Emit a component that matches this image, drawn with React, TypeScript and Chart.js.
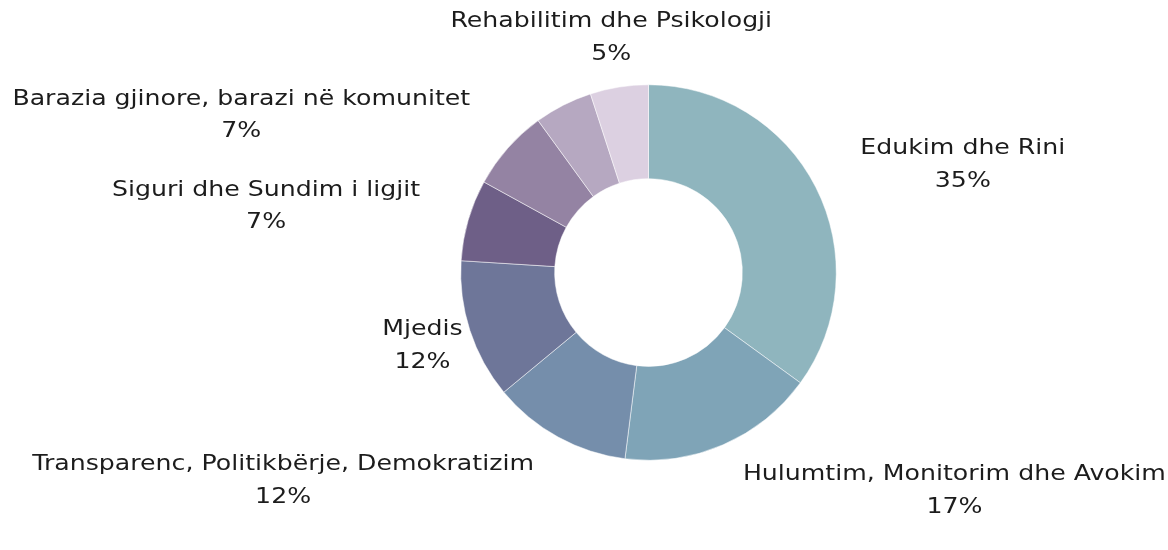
import React, { useEffect, useRef } from 'react';
import { Chart, registerables } from 'chart.js';

Chart.register(...registerables);

// ---- data ----
const categories = [
  'Edukim dhe Rini',
  'Hulumtim, Monitorim dhe Avokim',
  'Transparenc, Politikbërje, Demokratizim',
  'Mjedis',
  'Siguri dhe Sundim i ligjit',
  'Barazia gjinore, barazi në komunitet',
  'Tjetër',
  'Rehabilitim dhe Psikologji',
];
const values = [35, 17, 12, 12, 7, 7, 5, 5];
const sliceColors = [
  '#8fb5be',
  '#7fa4b7',
  '#758eab',
  '#6e7699',
  '#6e5f87',
  '#9483a3',
  '#b6a8c1',
  '#dcd0e1',
];

// ---- label styling (null = label hidden by overlap) ----
const labelAlign: (CanvasTextAlign | null)[] = ['left', 'left', 'right', 'center', 'right', 'right', null, 'center'];

const FONT = '21px "DejaVu Sans", sans-serif';
const STRETCH = 1.2;

const labelPlugin = {
  id: 'outerLabels',
  afterDraw(chart: any) {
    const ctx = chart.ctx as CanvasRenderingContext2D;
    const meta = chart.getDatasetMeta(0);
    const total = values.reduce((a, b) => a + b, 0);
    ctx.save();
    ctx.font = FONT;
    ctx.fillStyle = '#1c1c1c';
    ctx.textBaseline = 'middle';
    ctx.textAlign = 'center';
    const drawLine = (t: string, x: number, y: number) => {
      ctx.save();
      ctx.translate(x, y);
      ctx.scale(STRETCH, 1);
      ctx.fillText(t, 0, 0);
      ctx.restore();
    };
    meta.data.forEach((arc: any, i: number) => {
      const align = labelAlign[i];
      if (!align) return;
      const { x, y, startAngle, endAngle, outerRadius } = arc.getProps(['x', 'y', 'startAngle', 'endAngle', 'outerRadius'], true);
      const mid = (startAngle + endAngle) / 2;
      const r = outerRadius + 50;
      const px = x + Math.cos(mid) * r;
      const py = y + Math.sin(mid) * r;
      const line1 = categories[i];
      const line2 = Math.round((values[i] / total) * 100) + '%';
      const w = Math.max(ctx.measureText(line1).width, ctx.measureText(line2).width) * STRETCH;
      let cx = px;
      if (align === 'left') cx = px + w / 2;
      else if (align === 'right') cx = px - w / 2;
      drawLine(line1, cx, py - 16);
      drawLine(line2, cx, py + 16.5);
    });
    ctx.restore();
  },
};

export default function App() {
  const canvasRef = useRef<HTMLCanvasElement | null>(null);

  useEffect(() => {
    document.body.style.margin = '0';
    const canvas = canvasRef.current;
    if (!canvas) return;
    const chart = new Chart(canvas, {
      type: 'doughnut',
      data: {
        labels: categories,
        datasets: [
          {
            data: values,
            backgroundColor: sliceColors,
            borderColor: '#ffffff',
            borderWidth: 0.5,
          },
        ],
      },
      options: {
        responsive: false,
        animation: false,
        cutout: '50%',
        layout: {
          padding: { left: 460.5, right: 331.5, top: 84.5, bottom: 89.5 },
        },
        plugins: {
          legend: { display: false },
          tooltip: { enabled: false },
        },
      },
      plugins: [labelPlugin],
    });
    return () => chart.destroy();
  }, []);

  return (
    <div style={{ width: 1168, height: 550, background: '#ffffff' }}>
      <canvas ref={canvasRef} width={1168} height={550} />
    </div>
  );
}
